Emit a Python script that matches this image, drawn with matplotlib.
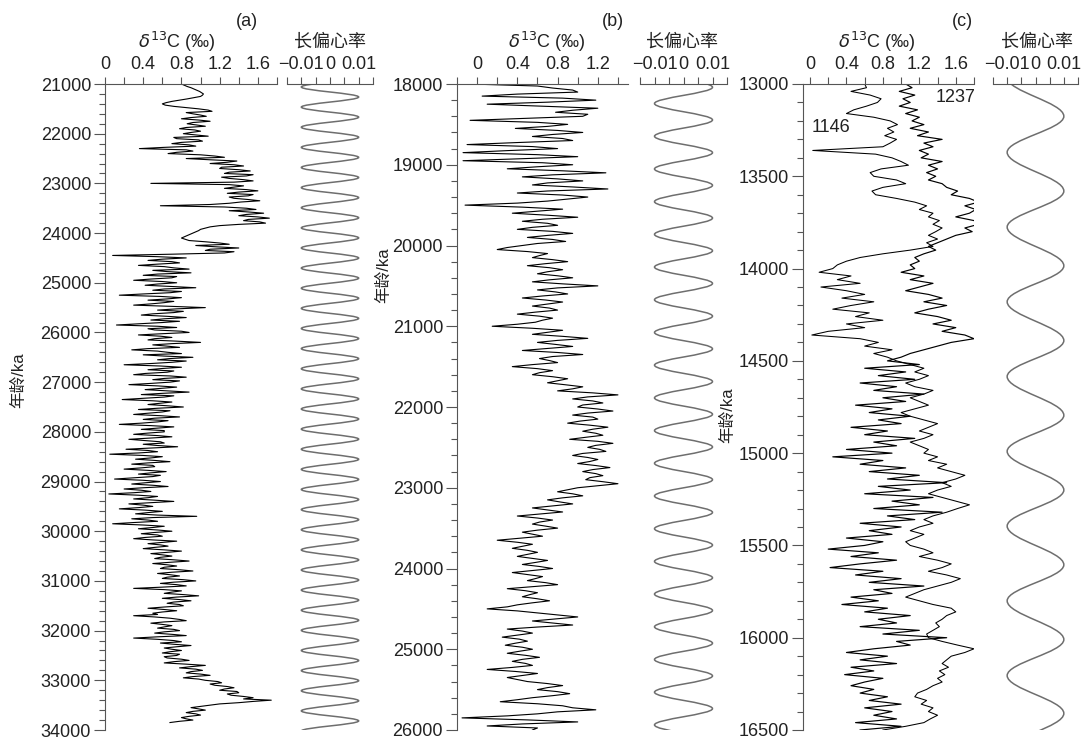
import numpy as np
import matplotlib
matplotlib.use('Agg')
import matplotlib.pyplot as plt
from matplotlib.path import Path
from matplotlib.patches import PathPatch
from matplotlib.ticker import MultipleLocator

plt.rcParams['font.family'] = ['Liberation Sans', 'Noto Sans CJK SC', 'DejaVu Sans']
plt.rcParams['axes.unicode_minus'] = True

# ---------------- data ----------------
# (a) delta13C, sampled every 25 ka from 21000 to 33850 ka
age_a = np.arange(21000, 33851, 25)
d13c_a = [
    0.80, 0.83, 0.86, 0.90, 0.93, 0.96, 0.99, 1.01, 1.03, 1.02, 1.00, 0.93, 0.86, 0.78, 0.70, 0.64, 0.60, 0.63, 0.72, 0.85,
    0.98, 1.08, 1.12, 0.85, 0.92, 1.00, 1.06, 0.90, 0.80, 0.98, 1.10, 0.92, 0.86, 0.96, 1.05, 0.85, 0.78, 0.94, 1.00, 0.90,
    0.82, 0.95, 1.08, 0.72, 0.75, 0.98, 1.02, 0.80, 0.70, 0.88, 0.95, 0.62, 0.36, 0.85, 0.92, 0.75, 0.66, 1.00, 1.15, 1.25,
    0.85, 1.10, 1.38, 1.28, 1.10, 1.35, 1.45, 1.22, 1.20, 1.40, 1.52, 1.30, 1.25, 1.55, 1.48, 1.22, 1.30, 1.45, 1.55, 1.35,
    0.48, 1.30, 1.45, 1.35, 1.25, 1.48, 1.60, 1.40, 1.28, 1.55, 1.50, 1.30, 1.35, 1.50, 1.62, 1.42, 1.30, 1.10, 0.58, 1.25,
    1.48, 1.58, 1.30, 1.50, 1.66, 1.48, 1.40, 1.60, 1.72, 1.50, 1.45, 1.62, 1.68, 1.40, 1.20, 1.10, 1.05, 1.00, 0.98, 0.95,
    0.92, 0.89, 0.86, 0.83, 0.80, 0.84, 0.88, 1.05, 1.20, 1.30, 0.95, 1.15, 1.40, 1.10, 1.05, 1.35, 1.25, 0.70, 0.08, 0.55,
    0.85, 0.60, 0.45, 0.70, 0.78, 0.55, 0.35, 0.62, 0.72, 0.88, 0.50, 0.65, 0.90, 0.55, 0.40, 0.75, 0.70, 0.48, 0.30, 0.60,
    0.75, 0.55, 0.42, 0.70, 0.95, 0.62, 0.50, 0.80, 0.68, 0.40, 0.15, 0.58, 0.80, 0.65, 0.45, 0.72, 0.62, 0.48, 0.30, 0.70,
    1.05, 0.75, 0.55, 0.82, 0.72, 0.50, 0.38, 0.65, 0.85, 0.62, 0.48, 0.78, 0.60, 0.35, 0.12, 0.55, 0.75, 0.45, 0.52, 0.80,
    0.88, 0.60, 0.35, 0.58, 0.70, 0.52, 0.45, 0.75, 1.00, 0.70, 0.50, 0.65, 0.78, 0.45, 0.28, 0.55, 0.66, 0.80, 0.40, 0.62,
    0.92, 0.68, 0.55, 0.85, 0.70, 0.48, 0.20, 0.58, 0.80, 0.60, 0.45, 0.72, 0.65, 0.42, 0.30, 0.68, 0.85, 0.62, 0.50, 0.78,
    0.68, 0.48, 0.25, 0.55, 0.75, 0.58, 0.42, 0.65, 0.88, 0.60, 0.38, 0.72, 0.62, 0.40, 0.18, 0.50, 0.70, 0.58, 0.45, 0.65,
    0.82, 0.55, 0.35, 0.68, 0.60, 0.45, 0.30, 0.58, 0.78, 0.52, 0.40, 0.66, 0.55, 0.38, 0.15, 0.48, 0.72, 0.55, 0.38, 0.62,
    0.62, 0.45, 0.30, 0.55, 0.70, 0.48, 0.25, 0.42, 0.58, 0.62, 0.40, 0.55, 0.76, 0.50, 0.22, 0.45, 0.55, 0.35, 0.05, 0.40,
    0.60, 0.48, 0.32, 0.52, 0.68, 0.45, 0.28, 0.50, 0.52, 0.38, 0.20, 0.45, 0.64, 0.48, 0.35, 0.58, 0.50, 0.30, 0.10, 0.40,
    0.58, 0.42, 0.28, 0.50, 0.66, 0.40, 0.20, 0.38, 0.48, 0.30, 0.04, 0.35, 0.55, 0.45, 0.30, 0.52, 0.72, 0.48, 0.25, 0.40,
    0.50, 0.35, 0.15, 0.42, 0.60, 0.45, 0.32, 0.55, 0.96, 0.50, 0.28, 0.45, 0.55, 0.30, 0.08, 0.40, 0.62, 0.50, 0.35, 0.55,
    0.70, 0.52, 0.38, 0.55, 0.60, 0.42, 0.30, 0.50, 0.75, 0.60, 0.45, 0.58, 0.66, 0.52, 0.40, 0.62, 0.80, 0.65, 0.48, 0.60,
    0.70, 0.58, 0.52, 0.72, 0.88, 0.68, 0.50, 0.65, 0.75, 0.62, 0.58, 0.78, 0.92, 0.70, 0.55, 0.68, 0.78, 0.65, 0.60, 0.82,
    0.95, 0.72, 0.58, 0.75, 0.85, 0.60, 0.30, 0.62, 0.80, 0.70, 0.62, 0.82, 0.98, 0.75, 0.60, 0.78, 0.90, 0.72, 0.65, 0.78,
    0.82, 0.62, 0.45, 0.62, 0.75, 0.60, 0.50, 0.55, 0.30, 0.52, 0.68, 0.78, 0.85, 0.62, 0.48, 0.60, 0.70, 0.62, 0.55, 0.72,
    0.78, 0.62, 0.52, 0.70, 0.85, 0.55, 0.30, 0.55, 0.72, 0.80, 0.58, 0.72, 0.90, 0.75, 0.62, 0.70, 0.80, 0.68, 0.60, 0.78,
    0.75, 0.62, 0.65, 0.80, 0.88, 0.72, 0.62, 0.85, 1.05, 0.90, 0.78, 0.95, 1.02, 0.90, 0.85, 1.00, 1.10, 0.92, 0.82, 0.98,
    1.05, 1.18, 1.22, 1.10, 1.15, 1.28, 1.35, 1.25, 1.20, 1.38, 1.40, 1.28, 1.32, 1.45, 1.55, 1.45, 1.74, 1.55, 1.40, 1.20,
    1.10, 1.00, 0.90, 0.98, 1.05, 0.92, 0.85, 0.95, 1.00, 0.88, 0.80, 0.85, 0.92, 0.78, 0.68,
]

# (b) delta13C, every 25 ka from 18000 to 26000 ka
age_b = np.arange(18000, 26001, 25)
d13c_b = [
    -0.07, 0.60, 0.75, 0.95, 1.00, 0.40, 0.05, 0.85, 1.18, 0.70, 0.10, 0.65, 1.20, 0.95, 0.78, 1.10, 1.05, 0.50, -0.07, 0.60,
    0.90, 0.70, 0.38, 0.80, 1.05, 0.75, 0.55, 0.85, 0.95, 0.40, -0.10, 0.55, 0.80, 0.30, -0.14, 0.60, 1.00, 0.45, -0.14, 0.65,
    0.95, 0.60, 0.30, 0.85, 1.28, 0.75, 0.45, 0.80, 1.05, 0.70, 0.55, 0.95, 1.30, 0.70, 0.40, 0.85, 1.10, 0.90, 0.70, 0.40,
    -0.12, 0.45, 0.85, 0.60, 0.35, 0.70, 1.00, 0.65, 0.45, 0.70, 0.80, 0.55, 0.40, 0.75, 0.95, 0.70, 0.50, 0.75, 0.88, 0.60,
    0.45, 0.30, 0.20, 0.50, 0.70, 0.62, 0.55, 0.75, 0.90, 0.68, 0.50, 0.72, 0.85, 0.70, 0.60, 0.80, 0.95, 0.72, 0.55, 0.85,
    1.20, 0.80, 0.60, 0.78, 0.90, 0.65, 0.45, 0.68, 0.85, 0.70, 0.55, 0.72, 0.80, 0.58, 0.40, 0.62, 0.75, 0.65, 0.58, 0.40,
    0.15, 0.55, 0.85, 0.70, 0.55, 0.85, 1.10, 0.80, 0.60, 0.78, 0.95, 0.70, 0.45, 0.80, 1.05, 0.75, 0.62, 0.72, 0.80, 0.55,
    0.35, 0.60, 0.75, 0.62, 0.55, 0.75, 0.90, 0.80, 0.70, 0.88, 1.05, 0.95, 0.80, 1.15, 1.40, 1.10, 0.95, 1.15, 1.25, 1.05,
    1.00, 1.20, 1.35, 1.10, 0.95, 1.15, 1.20, 1.02, 0.90, 1.12, 1.30, 1.15, 1.05, 1.18, 1.25, 1.08, 0.92, 1.20, 1.35, 1.18,
    1.10, 1.22, 1.28, 1.05, 0.95, 1.10, 1.20, 1.12, 1.00, 1.18, 1.32, 1.15, 1.05, 1.18, 1.25, 1.12, 1.08, 1.25, 1.40, 1.20,
    1.00, 0.90, 0.80, 0.95, 1.05, 0.85, 0.70, 0.82, 0.95, 0.75, 0.55, 0.70, 0.85, 0.62, 0.40, 0.60, 0.75, 0.62, 0.55, 0.68,
    0.80, 0.60, 0.45, 0.55, 0.65, 0.42, 0.20, 0.40, 0.55, 0.45, 0.35, 0.50, 0.60, 0.50, 0.40, 0.55, 0.70, 0.58, 0.45, 0.62,
    0.75, 0.55, 0.35, 0.50, 0.65, 0.58, 0.50, 0.68, 0.80, 0.55, 0.30, 0.48, 0.60, 0.52, 0.45, 0.60, 0.72, 0.55, 0.40, 0.30,
    0.10, 0.40, 0.60, 0.80, 1.00, 0.78, 0.55, 0.75, 0.95, 0.60, 0.30, 0.45, 0.55, 0.40, 0.25, 0.42, 0.50, 0.38, 0.28, 0.45,
    0.55, 0.42, 0.30, 0.48, 0.62, 0.45, 0.35, 0.48, 0.55, 0.35, 0.10, 0.38, 0.60, 0.45, 0.30, 0.40, 0.50, 0.70, 0.85, 0.70,
    0.60, 0.80, 0.92, 0.75, 0.55, 0.40, 0.23, 0.60, 0.85, 0.95, 1.18, 0.80, 0.60, 0.30, -0.15, 0.50, 1.00, 0.45, 0.10, 0.60,
    0.55,
]

# (c) delta13C of sites 1146 and 1237, every 20 ka from 13000 to 16500 ka
age_c = np.arange(13000, 16501, 20)
d13c_1146 = [
    0.60, 0.62, 0.45, 0.66, 0.78, 0.74, 0.62, 0.48, 0.40, 0.70, 0.88, 0.96, 0.85, 0.92, 0.82, 0.95, 0.88, 0.80, 0.03, 0.72, 0.90, 1.00, 1.08, 0.78, 0.66,
    0.70, 0.95, 1.05, 0.80, 0.68, 0.72, 0.95, 1.15, 1.28, 1.20, 1.35, 1.30, 1.42, 1.35, 1.45, 1.38, 1.30, 1.40, 1.28, 1.35, 1.10, 0.80, 0.55, 0.40, 0.30,
    0.25, 0.10, 0.45, 0.30, 0.55, 0.12, 0.40, 0.60, 0.35, 0.70, 0.45, 0.25, 0.65, 0.50, 0.80, 0.40, 0.60, 0.20, 0.02, 0.55, 0.75, 0.60, 0.90, 0.70, 0.85,
    0.95, 1.10, 1.25, 1.15, 1.30, 1.20, 1.05, 1.15, 1.35, 1.25, 1.10, 1.20, 1.30, 1.15, 1.00, 1.10, 1.25, 1.40, 1.30, 1.20, 1.35, 1.25, 1.10, 1.20, 1.30,
    1.25, 1.40, 1.30, 1.50, 1.40, 1.55, 1.70, 1.60, 1.45, 1.55, 1.40, 1.30, 1.45, 1.60, 1.75, 1.62, 1.50, 1.35, 1.25, 1.35, 1.20, 1.10, 1.25, 1.15, 1.05,
    1.10, 1.25, 1.35, 1.20, 1.40, 1.55, 1.45, 1.30, 1.50, 1.65, 1.55, 1.40, 1.25, 1.15, 1.05, 1.20, 1.35, 1.55, 1.60, 1.50, 1.45, 1.38, 1.42, 1.35, 1.28,
    1.30, 1.45, 1.62, 1.80, 1.70, 1.55, 1.50, 1.45, 1.52, 1.42, 1.48, 1.40, 1.45, 1.35, 1.28, 1.18, 1.15, 1.28, 1.22, 1.35, 1.30, 1.40, 1.32, 1.25, 1.05,
    0.80,
]
d13c_1237 = [
    1.05, 1.12, 0.98, 1.15, 1.02, 1.10, 0.98, 1.18, 1.05, 1.20, 1.12, 1.25, 1.10, 1.30, 1.18, 1.45, 1.25, 1.35, 1.20, 1.30, 1.22, 1.45, 1.30, 1.40, 1.28,
    1.38, 1.30, 1.45, 1.50, 1.62, 1.55, 1.75, 1.85, 1.70, 1.82, 1.75, 1.60, 1.80, 1.85, 1.70, 1.78, 1.60, 1.50, 1.40, 1.30, 1.38, 1.25, 1.15, 1.20, 1.10,
    1.15, 1.00, 1.25, 1.10, 1.35, 1.20, 1.05, 1.30, 1.45, 1.25, 1.50, 1.30, 1.15, 1.40, 1.55, 1.35, 1.60, 1.45, 1.70, 1.80, 1.55, 1.40, 1.25, 1.10, 1.00,
    0.85, 1.20, 0.60, 1.05, 0.75, 1.15, 0.55, 0.95, 0.70, 1.25, 0.80, 1.05, 0.50, 0.90, 0.65, 1.10, 0.75, 1.00, 0.45, 0.85, 0.60, 1.15, 0.70, 0.95, 0.40,
    0.90, 0.25, 0.80, 0.55, 1.05, 0.65, 1.20, 0.85, 1.50, 0.75, 1.10, 0.60, 1.35, 0.90, 1.20, 0.70, 1.45, 0.85, 1.15, 0.55, 1.00, 0.65, 0.90, 0.40, 0.80,
    0.60, 0.20, 0.75, 0.45, 0.95, 0.55, 0.22, 0.80, 0.50, 1.00, 0.65, 1.25, 0.70, 0.90, 0.45, 0.75, 0.35, 0.85, 0.60, 1.10, 0.75, 0.95, 0.55, 1.20, 0.80,
    1.50, 0.95, 1.10, 0.70, 0.40, 0.85, 0.55, 0.95, 0.45, 0.70, 0.38, 0.80, 0.60, 0.45, 0.70, 0.55, 0.85, 0.65, 1.00, 0.60, 0.90, 0.70, 0.95, 0.50, 1.00,
    0.55,
]

# long-eccentricity curves: ages (ka) of the minima and maxima, and their size
ecc_amp = 0.010
ecc_a_min = [20655, 21060, 21465, 21870, 22275, 22680, 23085, 23490, 23895, 24300, 24705, 25110, 25515,
             25920, 26325, 26730, 27135, 27540, 27945, 28350, 28755, 29160, 29565, 29970, 30375,
             30780, 31185, 31590, 31995, 32400, 32805, 33210, 33615, 34020]
ecc_a_max = [20857, 21262, 21667, 22072, 22477, 22882, 23287, 23692, 24097, 24502, 24907, 25312, 25717,
             26122, 26527, 26932, 27337, 27742, 28147, 28552, 28957, 29362, 29767, 30172, 30577,
             30982, 31387, 31792, 32197, 32602, 33007, 33412, 33817, 34222]
ecc_b_min = [17837, 18242, 18647, 19052, 19457, 19862, 20267, 20672, 21077, 21482, 21887, 22292,
             22697, 23102, 23507, 23912, 24317, 24722, 25127, 25532, 25937]
ecc_b_max = [18040, 18445, 18850, 19255, 19660, 20065, 20470, 20875, 21280, 21685, 22090, 22495,
             22900, 23305, 23710, 24115, 24520, 24925, 25330, 25735, 26140]
ecc_c_min = [12965, 13370, 13775, 14180, 14585, 14990, 15395, 15800, 16205, 16615]
ecc_c_max = [13175, 13580, 13985, 14390, 14795, 15200, 15605, 16010, 16410]

# ---------------- figure ----------------
W, H = 1083, 742
fig = plt.figure(figsize=(W / 100, H / 100), dpi=100)
AX_COL = '#555555'
TXT = '#222222'
BOTTOM = 730


def add_ax(l, r, t, b):
    return fig.add_axes([l / W, 1 - b / H, (r - l) / W, (b - t) / H])


def ftext(x, y, s, **kw):
    fig.text(x / W, 1 - y / H, s, ha='center', va='center', color=TXT, **kw)


def style_top(ax, xlim, ticks, labels):
    ax.set_xlim(*xlim)
    ax.xaxis.tick_top()
    ax.set_xticks(ticks)
    ax.set_xticklabels(labels)
    ax.tick_params(axis='x', direction='out', length=5, width=0.8, pad=3,
                   labelsize=13, colors=AX_COL, labelcolor=TXT)
    for s in ['right', 'bottom']:
        ax.spines[s].set_visible(False)
    ax.spines['top'].set_color(AX_COL)
    ax.spines['left'].set_color(AX_COL)
    ax.patch.set_alpha(0)


def style_d13c(ax, xlim, ticks, labels, ylim, ymaj, ymin):
    style_top(ax, xlim, ticks, labels)
    ax.set_ylim(ylim[1], ylim[0])
    ax.yaxis.set_major_locator(MultipleLocator(ymaj))
    ax.yaxis.set_minor_locator(MultipleLocator(ymin))
    ax.tick_params(axis='y', which='major', direction='out', length=8, width=0.8, pad=2,
                   labelsize=13, colors=AX_COL, labelcolor=TXT)
    ax.tick_params(axis='y', which='minor', direction='out', length=4, width=0.8, colors=AX_COL)


def ecc_path(troughs, peaks, amp, k=0.36):
    pts = sorted([(a, -amp) for a in troughs] + [(a, amp) for a in peaks])
    ages = [p[0] for p in pts]
    vals = [p[1] for p in pts]
    verts = [(vals[0], ages[0])]
    codes = [Path.MOVETO]
    for i in range(1, len(ages)):
        d = ages[i] - ages[i - 1]
        verts += [(vals[i - 1], ages[i - 1] + k * d), (vals[i], ages[i] - k * d), (vals[i], ages[i])]
        codes += [Path.CURVE4] * 3
    return Path(verts, codes)


def ecc_axes(l, r, ylim, troughs, peaks):
    ax = add_ax(l, r, 84, BOTTOM)
    style_top(ax, (-0.015, 0.015), [-0.015, -0.01, -0.005, 0, 0.005, 0.01, 0.015],
              ['', '\u22120.01', '', '0', '', '0.01', ''])
    ax.spines['left'].set_visible(False)
    ax.set_yticks([])
    ax.set_ylim(ylim[1], ylim[0])
    ax.add_patch(PathPatch(ecc_path(troughs, peaks, ecc_amp), fill=False,
                           edgecolor='#6e6e6e', lw=1.1))
    return ax


lab02 = ['0', '', '0.4', '', '0.8', '', '1.2', '', '1.6', '']
ticks02 = [0, 0.2, 0.4, 0.6, 0.8, 1.0, 1.2, 1.4, 1.6, 1.8]
line_kw = dict(color='black', lw=0.8)

# (a)
ax = add_ax(105, 277, 84, BOTTOM)
style_d13c(ax, (0, 1.8), ticks02, lab02, (21000, 34000), 1000, 200)
ax.plot(d13c_a, age_a, **line_kw)
ecc_axes(287, 373, (21000, 34000), ecc_a_min, ecc_a_max)

# (b)
ax = add_ax(457, 628, 84, BOTTOM)
style_d13c(ax, (-0.2, 1.5), [-0.2, 0, 0.2, 0.4, 0.6, 0.8, 1.0, 1.2, 1.4],
           ['', '0', '', '0.4', '', '0.8', '', '1.2', ''], (18000, 26000), 1000, 200)
ax.plot(d13c_b, age_b, **line_kw)
ecc_axes(640, 727, (18000, 26000), ecc_b_min, ecc_b_max)

# (c)
ax = add_ax(803, 974, 84, BOTTOM)
style_d13c(ax, (-0.077, 1.8), ticks02, lab02, (13000, 16500), 500, 100)
ax.plot(d13c_1146, age_c, color='black', lw=0.75)
ax.plot(d13c_1237, age_c, color='black', lw=0.85)
ax.text(1.38, 13075, '1237', fontsize=13, color=TXT, ha='left', va='center')
ax.text(0.02, 13235, '1146', fontsize=13, color=TXT, ha='left', va='center')
ecc_axes(993, 1078, (13000, 16500), ecc_c_min, ecc_c_max)

# headers
d13c_label = r'$\delta^{13}$C (‰)'
for x_p, x_d, x_e, tag in [(247, 177, 330, '(a)'),
                           (613, 547, 682, '(b)'),
                           (962, 877, 1037, '(c)')]:
    ftext(x_p, 22, tag, fontsize=13)
    ftext(x_d, 42, d13c_label, fontsize=13)
    ftext(x_e, 42, '长偏心率', fontsize=13)

ftext(18, 380, '年龄/ka', fontsize=12, rotation=90)
ftext(383, 275, '年龄/ka', fontsize=12, rotation=90)
ftext(727, 415, '年龄/ka', fontsize=12, rotation=90)

fig.savefig('out.png', dpi=100)
